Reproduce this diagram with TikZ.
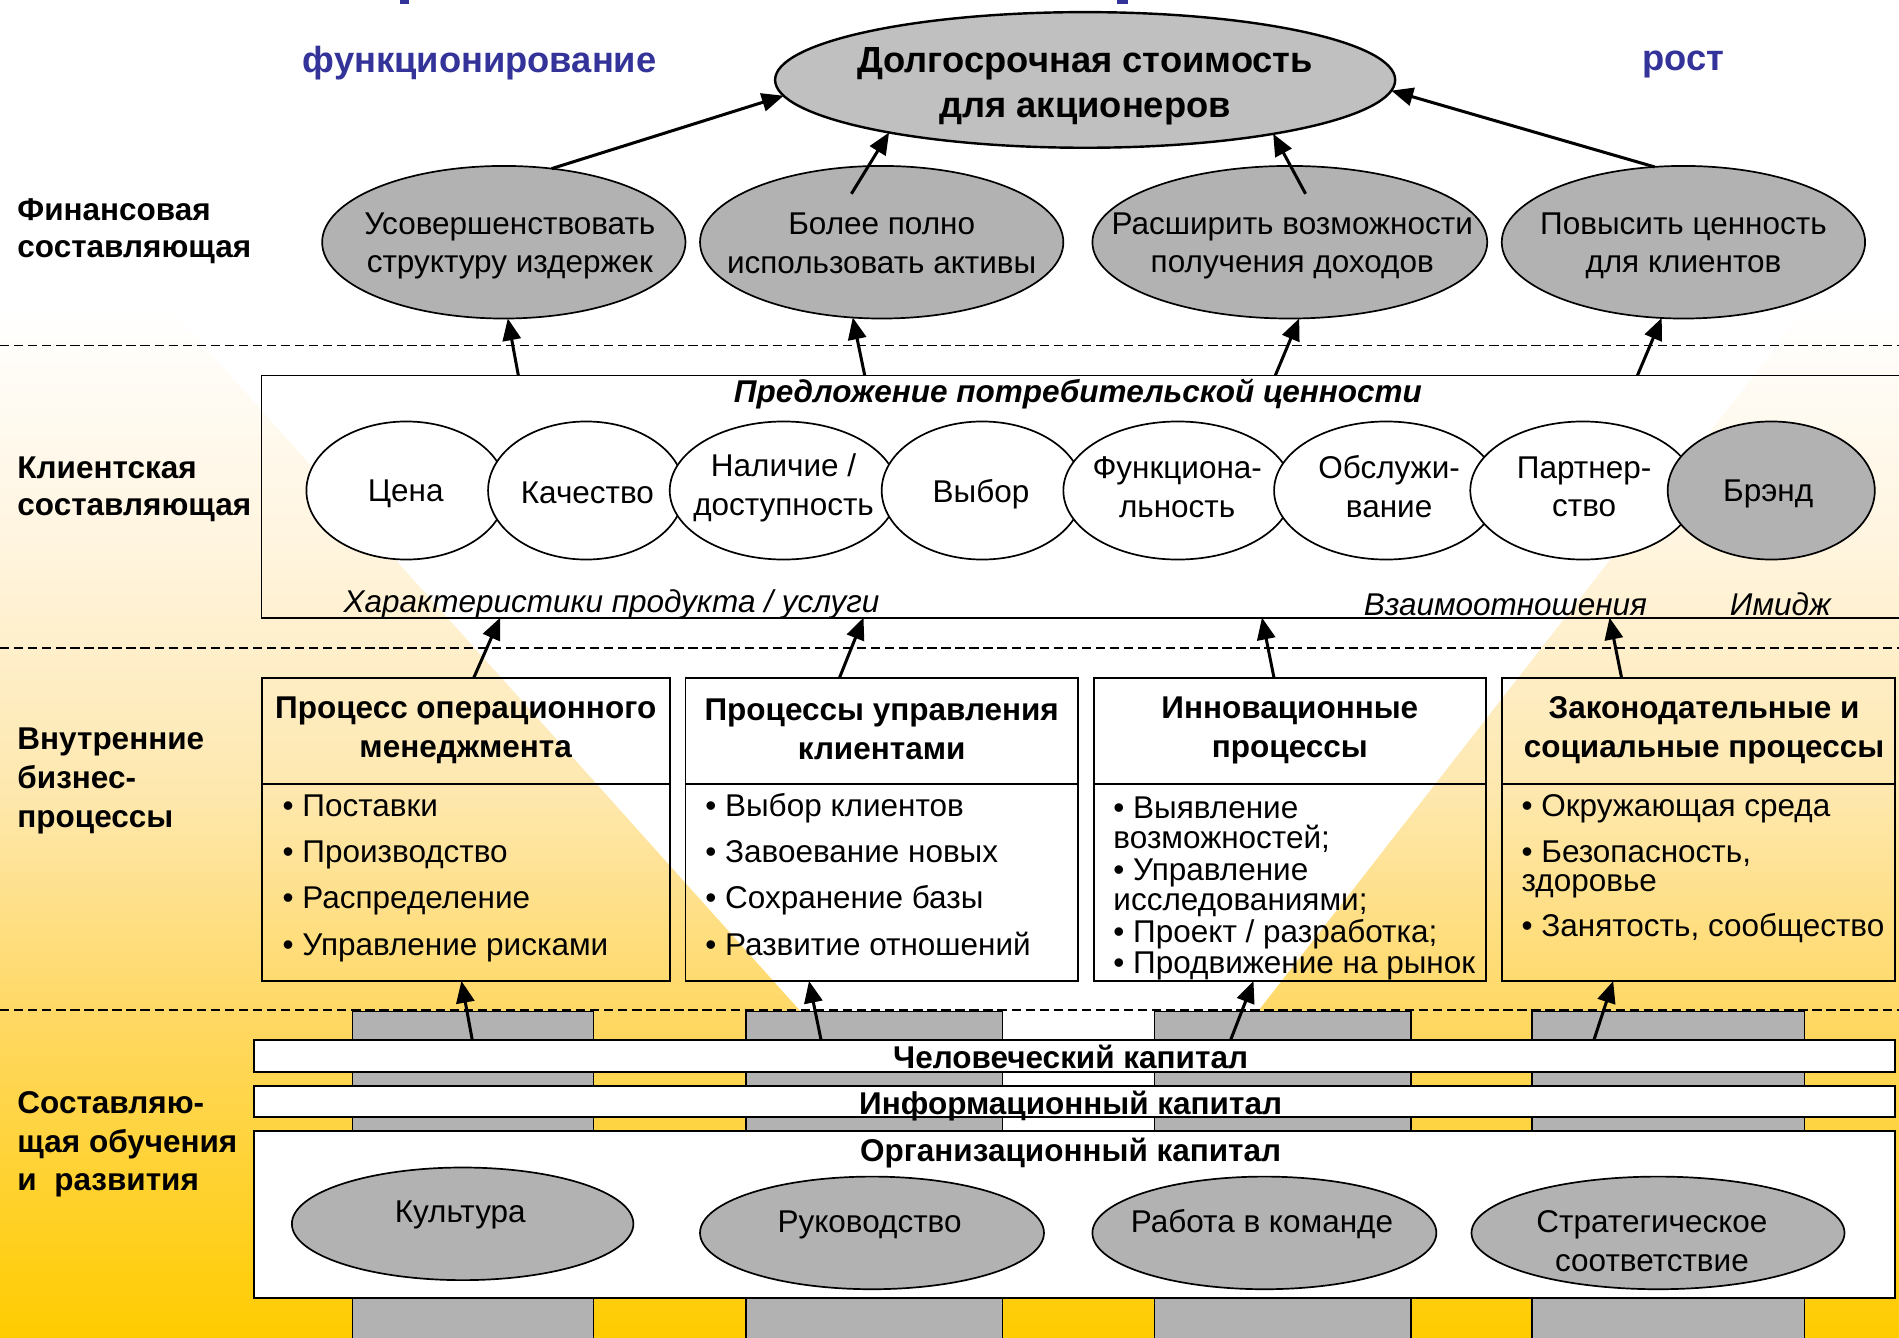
\documentclass[tikz,border=0pt]{standalone}
\usepackage{fontspec}
\setmainfont{Liberation Sans}
\usetikzlibrary{shapes.geometric,arrows.meta}
\definecolor{ttblue}{RGB}{51,51,153}
\definecolor{gA}{RGB}{178,178,178}
\definecolor{gB}{RGB}{192,192,192}
\definecolor{ylA}{RGB}{255,204,0}
\definecolor{ylB}{RGB}{255,216,100}
\definecolor{ylC}{RGB}{254,232,175}
\definecolor{ylD}{RGB}{255,244,222}
\pgfdeclareverticalshading{bgsh}{100bp}{color(0bp)=(ylA); color(25bp)=(ylA); color(37bp)=(ylB); color(45.5bp)=(ylC); color(54.5bp)=(ylD); color(63.5bp)=(white); color(100bp)=(white)}
\newcommand{\myfs}{\fontsize{13}{16}\selectfont}
\newcommand{\mybig}{\fontsize{15}{18.5}\selectfont\bfseries}
\begin{document}
\begin{tikzpicture}[x=0.5pt,y=-0.5pt,
 ell/.style={ellipse, draw=black, line width=0.7pt, inner sep=0pt, outer sep=0pt},
 box/.style={rectangle, draw=black, line width=0.8pt, inner sep=0pt, outer sep=0pt},
 txt/.style={inner sep=0pt, align=center, font=\myfs},
 txtb/.style={inner sep=0pt, align=center, font=\myfs\bfseries},
 lbl/.style={inner sep=0pt, align=left, anchor=west},
 item/.style={inner sep=0pt, anchor=base west, font=\myfs},
 arr/.style={line width=1.25pt, -{Triangle[length=9pt,width=7.5pt]}},
 sepline/.style={line width=0.55pt, dash pattern=on 3.85pt off 1.95pt},
 colm/.style={fill=gA, draw=black, line width=0.5pt},
 bar/.style={box, fill=white, minimum width=677.5pt}
]
\useasboundingbox (0,0) rectangle (1568,1104);
\clip (0,0) rectangle (1568,1104);
% background
\shade[shading=bgsh] (0,0) rectangle (1568,1104);
\fill[white] (-88,0) -- (1690,0) -- (863,1060) -- cycle;
\fill[ttblue] (330,0) rectangle (338,3);
\fill[ttblue] (922,0) rectangle (931,3);
% separators
\draw[sepline] (0,285) -- (1568,285);
\draw[sepline] (0,535) -- (1568,535);
\draw[sepline] (0,834) -- (1568,834);

% headings
\node[inner sep=0pt, font=\mybig, text=ttblue] (hf) at (396,52) {функционирование};
\node[inner sep=0pt, font=\mybig, text=ttblue] (hr) at (1390,53) {рост};

% left labels
\node[lbl, font=\fontsize{13}{15.5}\selectfont\bfseries] (L1) at (14,191) {Финансовая\\составляющая};
\node[lbl, font=\fontsize{13}{15.5}\selectfont\bfseries] (L2) at (14,404) {Клиентская\\составляющая};
\node[lbl, font=\fontsize{13}{16}\selectfont\bfseries] (L3) at (14,645) {Внутренние\\бизнес-\\процессы};
\node[lbl, font=\fontsize{13}{16}\selectfont\bfseries] (L4) at (14,945) {Составляю-\\щая обучения\\и\ \ развития};

% top ellipse
\node[ell, fill=gB, line width=1pt, minimum width=256pt, minimum height=56pt] (T) at (896,66) {};
\node[inner sep=0pt, align=center, font=\mybig] (Tt) at (896,71) {Долгосрочная стоимость\\для акционеров};

% financial ellipses
\node[ell, fill=gA, minimum width=150pt, minimum height=63pt] (F1) at (416,200) {};
\node[ell, fill=gA, minimum width=150pt, minimum height=63pt] (F2) at (728,200) {};
\node[ell, fill=gA, minimum width=163pt, minimum height=63pt] (F3) at (1065,200) {};
\node[ell, fill=gA, minimum width=150pt, minimum height=63pt] (F4) at (1390,200) {};
\node[txt] (F1t) at (421,203) {Усовершенствовать\\структуру издержек};
\node[txt] (F2t) at (728,201) {Более полно\\использовать активы};
\node[txt] (F3t) at (1067,203) {Расширить возможности\\получения доходов};
\node[txt] (F4t) at (1390,203) {Повысить ценность\\для клиентов};

% customer box
\node[box, line width=0.7pt, minimum width=677pt, minimum height=100pt] (C) at (893,410) {};
\node[inner sep=0pt, font=\myfs\bfseries\itshape] (Ct) at (890,325) {Предложение потребительской ценности};
\node[ell, fill=white, minimum width=82.5pt, minimum height=57pt] (c1) at (335.5,405) {};
\node[ell, fill=white, minimum width=81pt, minimum height=57pt] (c2) at (484,405) {};
\node[ell, fill=white, minimum width=94pt, minimum height=57pt] (c3) at (647,405) {};
\node[ell, fill=white, minimum width=83pt, minimum height=57pt] (c4) at (811,405) {};
\node[ell, fill=white, minimum width=94.5pt, minimum height=57pt] (c5) at (972.5,405) {};
\node[ell, fill=white, minimum width=92.5pt, minimum height=57pt] (c6) at (1144.5,405) {};
\node[ell, fill=white, minimum width=93pt, minimum height=57pt] (c7) at (1307,405) {};
\node[ell, fill=gA, minimum width=85.5pt, minimum height=57pt] (c8) at (1462.5,405) {};
\node[txt] (c1t) at (335,408) {Цена};
\node[txt] (c2t) at (485,407) {Качество};
\node[txt] (c3t) at (647,403) {Наличие /\\доступность};
\node[txt] (c4t) at (810,408) {Выбор};
\node[txt] (c5t) at (972,402) {Функциона-\\льность};
\node[txt] (c6t) at (1147,402) {Обслужи-\\вание};
\node[txt] (c7t) at (1308,402) {Партнер-\\ство};
\node[txt] (c8t) at (1460,408) {Брэнд};
\node[inner sep=0pt, font=\myfs\itshape] (Ci1) at (505,499) {Характеристики продукта / услуги};
\node[inner sep=0pt, font=\myfs\itshape] (Ci2) at (1243,499) {Взаимоотношения};
\node[inner sep=0pt, font=\myfs\itshape] (Ci3) at (1470,499) {Имидж};

% process boxes
\node[box, minimum width=168.5pt, minimum height=125pt] (P1) at (384.5,685) {};
\node[box, minimum width=162pt, minimum height=125pt] (P2) at (728,685) {};
\node[box, minimum width=162pt, minimum height=125pt] (P3) at (1065,685) {};
\node[box, minimum width=162.5pt, minimum height=125pt] (P4) at (1402.5,685) {};
\draw[line width=0.8pt] (P1.west |- 0,647) -- (P1.east |- 0,647);
\draw[line width=0.8pt] (P2.west |- 0,647) -- (P2.east |- 0,647);
\draw[line width=0.8pt] (P3.west |- 0,647) -- (P3.east |- 0,647);
\draw[line width=0.8pt] (P4.west |- 0,647) -- (P4.east |- 0,647);
\node[txtb] (P1h) at (384.5,603) {Процесс операционного\\менеджмента};
\node[txtb] (P2h) at (728,602) {Процессы управления\\клиентами};
\node[txtb] (P3h) at (1065,603) {Инновационные\\процессы};
\node[txtb] (P4h) at (1407,603) {Законодательные и\\социальные процессы};
\node[item] (p1a) at (233,674) {• Поставки};
\node[item] (p1b) at (233,712) {• Производство};
\node[item] (p1c) at (233,750) {• Распределение};
\node[item] (p1d) at (233,789) {• Управление рисками};
\node[item] (p2a) at (582,674) {• Выбор клиентов};
\node[item] (p2b) at (582,712) {• Завоевание новых};
\node[item] (p2c) at (582,750) {• Сохранение базы};
\node[item] (p2d) at (582,789) {• Развитие отношений};
\node[item] (p3a) at (919,676) {• Выявление};
\node[item] (p3b) at (919,701) {возможностей;};
\node[item] (p3c) at (919,727) {• Управление};
\node[item] (p3d) at (919,752) {исследованиями;};
\node[item] (p3e) at (919,778) {• Проект / разработка;};
\node[item] (p3f) at (919,804) {• Продвижение на рынок};
\node[item] (p4a) at (1256,674) {• Окружающая среда};
\node[item] (p4b) at (1256,712) {• Безопасность,};
\node[item] (p4c) at (1256,736) {здоровье};
\node[item] (p4d) at (1256,773) {• Занятость, сообщество};

% learning & growth
\draw[colm] (291,835) rectangle (490,1110);
\draw[colm] (616,835) rectangle (828,1110);
\draw[colm] (953,835) rectangle (1165,1110);
\draw[colm] (1265,835) rectangle (1490,1110);
\node[bar, minimum height=13pt] (H) at (887.5,872) {};
\node[bar, minimum height=12.5pt] (I) at (887.5,909.5) {};
\node[bar, minimum height=69pt] (O) at (887.5,1003) {};
\node[inner sep=0pt, font=\myfs\bfseries] (Ht) at (884,873) {Человеческий капитал};
\node[inner sep=0pt, font=\myfs\bfseries] (It) at (884,913) {Информационный капитал};
\node[inner sep=0pt, font=\myfs\bfseries] (Ot) at (884,952) {Организационный капитал};
\node[ell, fill=gA, minimum width=141pt, minimum height=46.5pt] (o1) at (382,1010.5) {};
\node[ell, fill=gA, minimum width=142pt, minimum height=46.5pt] (o2) at (720,1018) {};
\node[ell, fill=gA, minimum width=142pt, minimum height=46.5pt] (o3) at (1044,1018) {};
\node[ell, fill=gA, minimum width=154pt, minimum height=46.5pt] (o4) at (1369,1018) {};
\node[txt] (o1t) at (380,1003) {Культура};
\node[txt] (o2t) at (718,1011) {Руководство};
\node[txt] (o3t) at (1042,1011) {Работа в команде};
\node[txt] (o4t) at (1364,1025) {Стратегическое\\соответствие};

% arrows: finance -> top
\coordinate (a2s) at (703,160);
\coordinate (a3s) at (1078,160);
\draw[arr] (F1.57.4) -- (T.183.5);
\draw[arr] (a2s) -- (T.195.6);
\draw[arr] (a3s) -- (T.344.9);
\draw[arr] (F4.111.9) -- (T.358.7);
% customer -> finance
\draw[arr] (C.north -| 428,0) -- (F1.273.6);
\draw[arr] (C.north -| 714,0) -- (F2.249.7);
\draw[arr] (C.north -| 1053,0) -- (F3.277.2);
\draw[arr] (C.north -| 1352,0) -- (F4.254.8);
% process -> customer
\draw[arr] (P1.north -| 391,0) -- (C.south -| 413,0);
\draw[arr] (P2.north -| 693,0) -- (C.south -| 713,0);
\draw[arr] (P3.north -| 1052,0) -- (C.south -| 1042,0);
\draw[arr] (P4.north -| 1339,0) -- (C.south -| 1329,0);
% capital -> process
\draw[arr] (H.north -| 390,0) -- (P1.south -| 381,0);
\draw[arr] (H.north -| 678,0) -- (P2.south -| 668,0);
\draw[arr] (H.north -| 1016,0) -- (P3.south -| 1035,0);
\draw[arr] (H.north -| 1316,0) -- (P4.south -| 1332,0);
\end{tikzpicture}
\end{document}
